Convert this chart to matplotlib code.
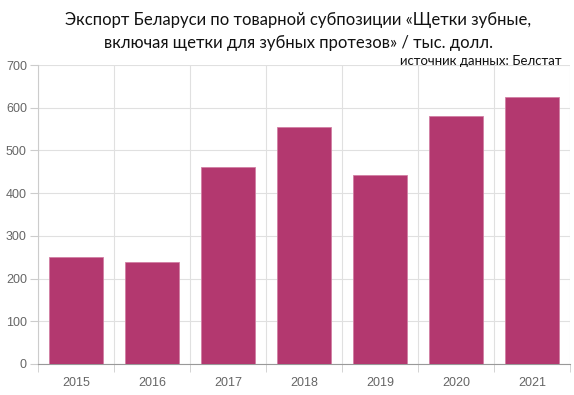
import matplotlib
matplotlib.use("Agg")
import matplotlib.pyplot as plt
import numpy as np

years = ["2015", "2016", "2017", "2018", "2019", "2020", "2021"]
values = [251, 239, 461, 555, 443, 581, 625]
yticks = [0, 100, 200, 300, 400, 500, 600, 700]

W, H = 574, 395
fig = plt.figure(figsize=(W/100, H/100), dpi=100)
ax = fig.add_axes([38/W, (H-364)/H, (570-38)/W, (364-65)/H])

x = np.arange(len(years))
ax.bar(x, values, width=0.72, color="#B3386F", edgecolor="#D27FA4", linewidth=0.6, zorder=3)

ax.set_xlim(-0.5, len(years)-0.5)
ax.set_ylim(0, 700)
ax.set_yticks(yticks)
ax.set_yticklabels([str(v) for v in yticks], fontsize=9, color="#666666", family="Liberation Sans")
ax.set_xticks(x)
ax.set_xticklabels(years, fontsize=9, color="#666666", family="Liberation Sans")
ax.set_xticks(np.arange(-0.5, len(years)), minor=True)
ax.tick_params(axis="x", which="major", length=0, pad=9)
ax.tick_params(axis="x", which="minor", length=6, color="#cccccc")
ax.tick_params(axis="y", length=6, color="#cccccc", pad=2)
ax.grid(axis="y", color="#e0e0e0", linewidth=0.8, zorder=0)
ax.grid(axis="x", which="minor", color="#e0e0e0", linewidth=0.8, zorder=0)
for s in ["top", "right"]:
    ax.spines[s].set_visible(False)
ax.spines["left"].set_color("#cccccc")
ax.spines["bottom"].set_color("#999999")

fig.text(298/W, 1-20/H, "Экспорт Беларуси по товарной субпозиции «Щетки зубные,",
         ha="center", va="center", fontsize=12, family="Lato", color="#111111")
fig.text(298/W, 1-43/H, "включая щетки для зубных протезов» / тыс. долл.",
         ha="center", va="center", fontsize=12, family="Lato", color="#111111")
fig.text(562/W, 1-61/H, "источник данных: Белстат", ha="right", va="center",
         fontsize=9.5, family="Lato", color="#111111")

fig.savefig("out.png", dpi=100)
